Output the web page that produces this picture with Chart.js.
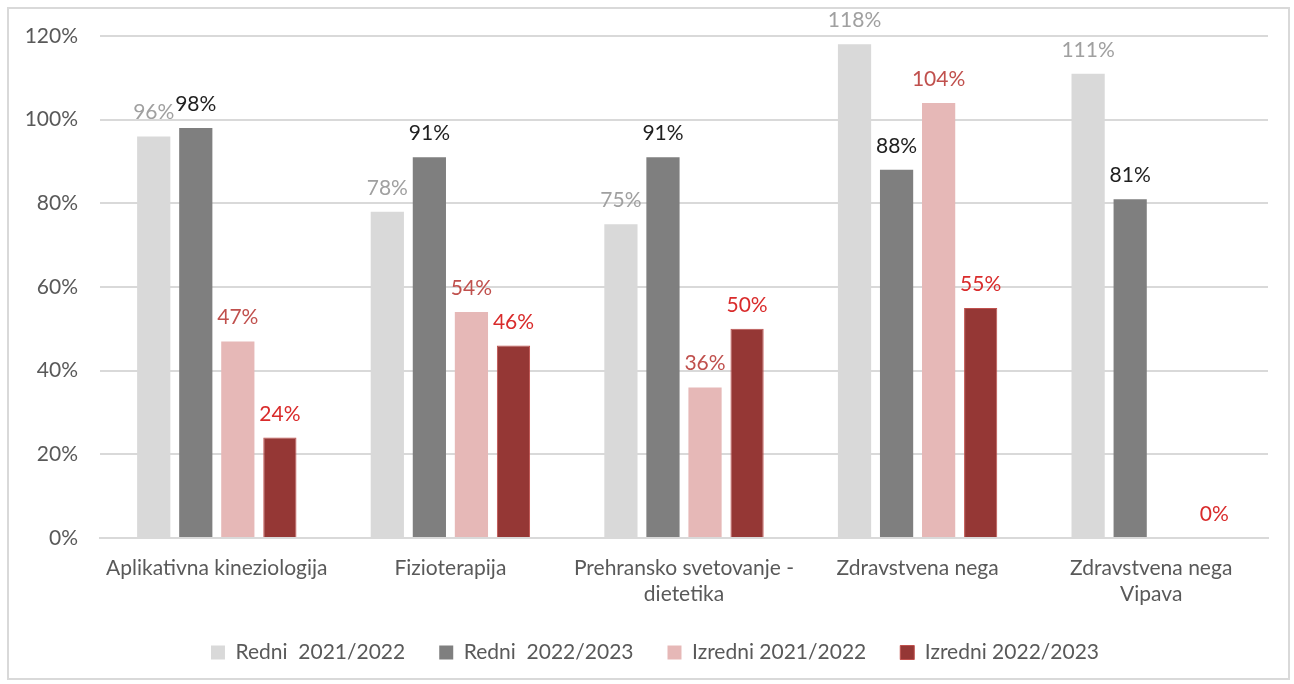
<!DOCTYPE html>
<html>
<head>
<meta charset="utf-8">
<script src="https://cdn.jsdelivr.net/npm/chart.js@4/dist/chart.umd.min.js"></script>
<style>
  body { margin: 0; background: #fff; }
  #wrap { position: absolute; left: 7px; top: 7px; width: 1279px; height: 669px; border: 2px solid #d9d9d9; }
  canvas { position: absolute; left: -9px; top: -9px; }
</style>
</head>
<body>
<div id="wrap"><canvas id="chart" width="1294" height="684"></canvas></div>
<script>
// podatki
const categories = [
    'Aplikativna kineziologija',
    'Fizioterapija',
    ['Prehransko svetovanje -', 'dietetika'],
    'Zdravstvena nega',
    ['Zdravstvena nega', 'Vipava']
];
const redni2122 = [96, 78, 75, 118, 111];
const redni2223 = [98, 91, 91, 88, 81];
const izredni2122 = [47, 54, 36, 104, null];
const izredni2223 = [24, 46, 50, 55, 0];
const yTicks = [0, 20, 40, 60, 80, 100, 120];

const FONT = 'Lato, "Open Sans", sans-serif';

// oznake nad stolpci
const barLabels = {
    id: 'barLabels',
    afterDatasetsDraw(chart) {
        const ctx = chart.ctx;
        ctx.save();
        ctx.font = '21px ' + FONT;
        ctx.textAlign = 'center';
        ctx.textBaseline = 'alphabetic';
        chart.data.datasets.forEach((ds, i) => {
            const meta = chart.getDatasetMeta(i);
            ctx.fillStyle = ds.labelColor;
            meta.data.forEach((bar, j) => {
                const v = ds.data[j];
                if (v === null || v === undefined) return;
                ctx.fillText(v + '%', bar.x, bar.y - 17);
            });
        });
        ctx.restore();
    }
};

new Chart(document.getElementById('chart'), {
    type: 'bar',
    data: {
        labels: categories,
        datasets: [
            { label: 'Redni  2021/2022', data: redni2122, backgroundColor: '#d9d9d9', labelColor: '#a0a0a0' },
            { label: 'Redni  2022/2023', data: redni2223, backgroundColor: '#7f7f7f', labelColor: '#1f1f1f' },
            { label: 'Izredni 2021/2022', data: izredni2122, backgroundColor: '#e6b8b7', labelColor: '#c0504d' },
            { label: 'Izredni 2022/2023', data: izredni2223, backgroundColor: '#953735', borderColor: '#c0504d', borderWidth: 1, labelColor: '#d92b2b' }
        ]
    },
    options: {
        responsive: false,
        animation: false,
        layout: { padding: { top: 36, right: 0, left: 16, bottom: 11 } },
        datasets: {
            bar: { categoryPercentage: 0.72, barPercentage: 0.79 }
        },
        scales: {
            x: {
                grid: { display: false },
                border: { color: '#d9d9d9', width: 2 },
                ticks: { color: '#595959', font: { family: FONT, size: 21 }, padding: 10, maxRotation: 0, autoSkip: false },
                afterFit(s) { s.height = 70; }
            },
            y: {
                min: 0,
                max: 120,
                afterBuildTicks(s) { s.ticks = yTicks.map(v => ({ value: v })); },
                grid: { color: '#d9d9d9', lineWidth: 2, drawTicks: false },
                border: { display: false },
                ticks: {
                    color: '#595959',
                    font: { family: FONT, size: 21 },
                    padding: 22,
                    callback: v => v + '%'
                },
                afterFit(s) { s.width = 84; }
            },
            // prazen desni rob
            yRight: {
                position: 'right',
                grid: { display: false },
                border: { display: false },
                ticks: { display: false },
                afterFit(s) { s.width = 26; }
            }
        },
        plugins: {
            legend: {
                position: 'bottom',
                labels: {
                    color: '#595959',
                    font: { family: FONT, size: 21 },
                    boxWidth: 14,
                    boxHeight: 14,
                    padding: 34
                }
            },
            tooltip: { enabled: false }
        }
    },
    plugins: [barLabels]
});
</script>
</body>
</html>
